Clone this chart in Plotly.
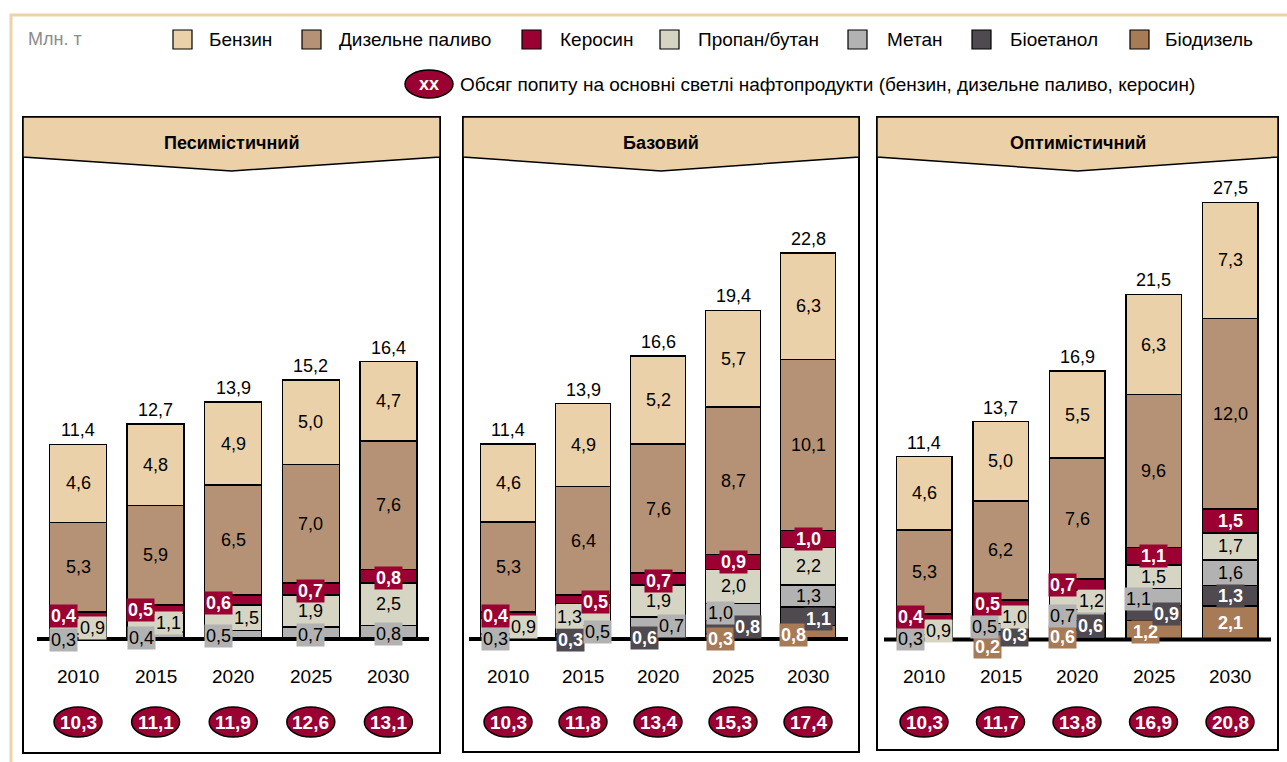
import plotly.graph_objects as go

W, H = 1287, 762
FONT = "Arial, Liberation Sans, sans-serif"

years = ["2010", "2015", "2020", "2025", "2030"]
scenario_titles = ["Песимістичний", "Базовий", "Оптимістичний"]

# fuels in stacking order, bottom to top
fuel_names = ["Біодизель", "Біоетанол", "Метан", "Пропан/бутан", "Керосин", "Дизельне паливо", "Бензин"]
legend_order = ["Бензин", "Дизельне паливо", "Керосин", "Пропан/бутан", "Метан", "Біоетанол", "Біодизель"]

# --- Песимістичний, млн т
pes_benzin = [4.6, 4.8, 4.9, 5.0, 4.7]
pes_diesel = [5.3, 5.9, 6.5, 7.0, 7.6]
pes_kerosene = [0.4, 0.5, 0.6, 0.7, 0.8]
pes_propane = [0.9, 1.1, 1.5, 1.9, 2.5]
pes_methane = [0.3, 0.4, 0.5, 0.7, 0.8]
pes_bioethanol = [None, None, None, None, None]
pes_biodiesel = [None, None, None, None, None]
pes_total = [11.4, 12.7, 13.9, 15.2, 16.4]
pes_demand = [10.3, 11.1, 11.9, 12.6, 13.1]

# --- Базовий, млн т
base_benzin = [4.6, 4.9, 5.2, 5.7, 6.3]
base_diesel = [5.3, 6.4, 7.6, 8.7, 10.1]
base_kerosene = [0.4, 0.5, 0.7, 0.9, 1.0]
base_propane = [0.9, 1.3, 1.9, 2.0, 2.2]
base_methane = [0.3, 0.5, 0.7, 1.0, 1.3]
base_bioethanol = [None, 0.3, 0.6, 0.8, 1.1]
base_biodiesel = [None, None, None, 0.3, 0.8]
base_total = [11.4, 13.9, 16.6, 19.4, 22.8]
base_demand = [10.3, 11.8, 13.4, 15.3, 17.4]

# --- Оптимістичний, млн т
opt_benzin = [4.6, 5.0, 5.5, 6.3, 7.3]
opt_diesel = [5.3, 6.2, 7.6, 9.6, 12.0]
opt_kerosene = [0.4, 0.5, 0.7, 1.1, 1.5]
opt_propane = [0.9, 1.0, 1.2, 1.5, 1.7]
opt_methane = [0.3, 0.5, 0.7, 1.1, 1.6]
opt_bioethanol = [None, 0.3, 0.6, 0.9, 1.3]
opt_biodiesel = [None, 0.2, 0.6, 1.2, 2.1]
opt_total = [11.4, 13.7, 16.9, 21.5, 27.5]
opt_demand = [10.3, 11.7, 13.8, 16.9, 20.8]

scenarios = [
    dict(values={"Бензин": pes_benzin, "Дизельне паливо": pes_diesel, "Керосин": pes_kerosene,
                 "Пропан/бутан": pes_propane, "Метан": pes_methane, "Біоетанол": pes_bioethanol,
                 "Біодизель": pes_biodiesel}, total=pes_total, demand=pes_demand),
    dict(values={"Бензин": base_benzin, "Дизельне паливо": base_diesel, "Керосин": base_kerosene,
                 "Пропан/бутан": base_propane, "Метан": base_methane, "Біоетанол": base_bioethanol,
                 "Біодизель": base_biodiesel}, total=base_total, demand=base_demand),
    dict(values={"Бензин": opt_benzin, "Дизельне паливо": opt_diesel, "Керосин": opt_kerosene,
                 "Пропан/бутан": opt_propane, "Метан": opt_methane, "Біоетанол": opt_bioethanol,
                 "Біодизель": opt_biodiesel}, total=opt_total, demand=opt_demand),
]

colors = {
    "Бензин": "#EBD1A9",
    "Дизельне паливо": "#B59276",
    "Керосин": "#9B0032",
    "Пропан/бутан": "#D6D5C4",
    "Метан": "#B2B2B2",
    "Біоетанол": "#4F4A4F",
    "Біодизель": "#A87B57",
}
# label look for each fuel: (text colour, bold)
label_look = {
    "Бензин": ("black", False),
    "Дизельне паливо": ("black", False),
    "Керосин": ("white", True),
    "Пропан/бутан": ("black", False),
    "Метан": ("black", False),
    "Біоетанол": ("white", True),
    "Біодизель": ("white", True),
}

# panel geometry in pixels: frame left/right, first bar centre, bar step,
# pixels per unit, baseline position, bar width in px
panels = [
    dict(left=23, right=440, c0=78, step=77.6, k=16.92, base=639, bw=57),
    dict(left=463, right=859, c0=508, step=75.0, k=16.94, base=639, bw=55),
    dict(left=877, right=1278, c0=924, step=76.5, k=15.9, base=639.5, bw=55.5),
]
panel_top, header_side, header_tip = 117, 157, 171
panel_bottoms = [753, 752, 750]

# pixel shifts for labels of the thin segments
label_offsets = {
    (0, 0, "Керосин"): (-15, -1), (0, 0, "Пропан/бутан"): (14, -2), (0, 0, "Метан"): (-15, -4),
    (0, 1, "Керосин"): (-15, -1), (0, 1, "Пропан/бутан"): (13, 0), (0, 1, "Метан"): (-14, -2),
    (0, 2, "Керосин"): (-15, -3), (0, 2, "Пропан/бутан"): (13, 0), (0, 2, "Метан"): (-15, -1),
    (0, 3, "Керосин"): (0, -2), (0, 3, "Метан"): (0, -2),
    (0, 4, "Керосин"): (0, -2), (0, 4, "Метан"): (0, -2),
    (1, 0, "Керосин"): (-13, -1), (1, 0, "Пропан/бутан"): (15, -1), (1, 0, "Метан"): (-13, -3),
    (1, 1, "Керосин"): (12, -3), (1, 1, "Пропан/бутан"): (-14, -3), (1, 1, "Метан"): (14, -2),
    (1, 1, "Біоетанол"): (-13, -4),
    (1, 2, "Керосин"): (0, -2), (1, 2, "Метан"): (13, -3), (1, 2, "Біоетанол"): (-14, -4),
    (1, 3, "Метан"): (-13, -1), (1, 3, "Біоетанол"): (14, 0), (1, 3, "Біодизель"): (-13, -3),
    (1, 4, "Біоетанол"): (10, -3), (1, 4, "Біодизель"): (-15, -3),
    (2, 0, "Керосин"): (-14, 0), (2, 0, "Пропан/бутан"): (14, -3), (2, 0, "Метан"): (-14, -2),
    (2, 1, "Керосин"): (-13, 0), (2, 1, "Пропан/бутан"): (14, -1), (2, 1, "Метан"): (-16, 1),
    (2, 1, "Біоетанол"): (14, -1), (2, 1, "Біодизель"): (-13, -9),
    (2, 2, "Керосин"): (-15, 0), (2, 2, "Пропан/бутан"): (14, -1), (2, 2, "Метан"): (-15, -1),
    (2, 2, "Біоетанол"): (13, -1), (2, 2, "Біодизель"): (-15, -2),
    (2, 3, "Метан"): (-15, -2), (2, 3, "Біоетанол"): (13, -1), (2, 3, "Біодизель"): (-8, -2),
}


def px(x):
    return x / W


def py(y):
    return 1 - y / H


def fmt(v):
    return f"{v:.1f}".replace(".", ",")


def text(xref, yref, x, y, s, size=18, color="black", xanchor="center", yanchor="middle", **kw):
    return dict(xref=xref, yref=yref, x=x, y=y, text=s, showarrow=False,
                xanchor=xanchor, yanchor=yanchor,
                font=dict(family=FONT, size=size, color=color), **kw)


fig = go.Figure()
shapes, annotations = [], []
layout_axes = {}

for p, (sc, g) in enumerate(zip(scenarios, panels)):
    sfx = "" if p == 0 else str(p + 1)
    xa, ya = "x" + sfx, "y" + sfx
    layout_axes["xaxis" + sfx] = dict(
        domain=[px(g["left"]), px(g["right"])],
        range=[(g["left"] - g["c0"]) / g["step"], (g["right"] - g["c0"]) / g["step"]],
        visible=False, fixedrange=True, anchor=ya)
    layout_axes["yaxis" + sfx] = dict(
        domain=[0, 1], range=[(g["base"] - H) / g["k"], g["base"] / g["k"]],
        visible=False, fixedrange=True, anchor=xa)

    xs = list(range(len(years)))
    bw = g["bw"] / g["step"]

    # panel frame and chevron header
    L, R, B = g["left"], g["right"], panel_bottoms[p]
    shapes.append(dict(type="rect", xref="paper", yref="paper", x0=px(L), x1=px(R), y0=py(B), y1=py(panel_top),
                       line=dict(color="black", width=2), fillcolor="rgba(0,0,0,0)", layer="below"))
    mid = (L + R) / 2
    path = (f"M {px(L)},{py(panel_top)} L {px(R)},{py(panel_top)} L {px(R)},{py(header_side)} "
            f"L {px(mid)},{py(header_tip)} L {px(L)},{py(header_side)} Z")
    shapes.append(dict(type="path", xref="paper", yref="paper", path=path, fillcolor="#EBD0A8",
                       line=dict(color="black", width=1.5), layer="below"))
    annotations.append(text("paper", "paper", px(mid), py(143), f"<b>{scenario_titles[p]}</b>", size=18))

    for f in fuel_names:
        fig.add_trace(go.Bar(
            x=xs, y=sc["values"][f], width=bw, xaxis=xa, yaxis=ya, name=f,
            marker=dict(color=colors[f], line=dict(color="black", width=1.5)),
            hoverinfo="skip", showlegend=False))

    # segment labels, totals, years and demand ellipses
    for i in xs:
        cum = 0.0
        for f in fuel_names:
            v = sc["values"][f][i]
            if v is None:
                continue
            dx, dy = label_offsets.get((p, i, f), (0, 0))
            tcol, bold = label_look[f]
            seg_px = v * g["k"]
            use_bg = (f in ("Керосин", "Метан", "Біоетанол", "Біодизель") and seg_px < 22) or dx != 0
            s = f"<b>{fmt(v)}</b>" if bold else fmt(v)
            ann = text(xa, ya, i, cum + v / 2, s, color=tcol, xshift=dx, yshift=dy, borderpad=1)
            if use_bg:
                ann["bgcolor"] = colors[f]
            annotations.append(ann)
            cum += v
        annotations.append(text(xa, ya, i, cum, fmt(sc["total"][i]), yanchor="bottom", yshift=2))
        annotations.append(text(xa, "paper", i, py(676), years[i], size=19))
        shapes.append(dict(type="circle", xref=xa, yref="paper", xsizemode="pixel", ysizemode="pixel",
                           xanchor=i, yanchor=py(722), x0=-24, x1=24, y0=-15, y1=15,
                           fillcolor="#9B0032", line=dict(color="black", width=1.5), layer="above"))
        annotations.append(text(xa, "paper", i, py(722), f"<b>{fmt(sc['demand'][i])}</b>", size=19, color="white"))

    # thick baseline
    base_ext = [(37, 429), (469, 848), (884, 1271)][p]
    shapes.append(dict(type="line", xref="paper", yref=ya, x0=px(base_ext[0]), x1=px(base_ext[1]), y0=0, y1=0,
                       line=dict(color="black", width=4), layer="above"))

# outer frame
shapes.append(dict(type="rect", xref="paper", yref="paper", x0=px(11), x1=px(1320), y0=py(800), y1=py(15),
                   line=dict(color="#EBD3AE", width=3), fillcolor="rgba(0,0,0,0)", layer="below"))

# legend
annotations.append(text("paper", "paper", px(26), py(39), "Млн. т", size=18, color="#8C8C8C", xanchor="left"))
legend_pos = {"Бензин": (173, 207), "Дизельне паливо": (302, 337), "Керосин": (522, 558),
              "Пропан/бутан": (660, 696), "Метан": (848, 885), "Біоетанол": (972, 1008),
              "Біодизель": (1130, 1163)}
for f in legend_order:
    sx, tx = legend_pos[f]
    shapes.append(dict(type="rect", xref="paper", yref="paper", x0=px(sx), x1=px(sx + 19), y0=py(49), y1=py(30),
                       fillcolor=colors[f], line=dict(color="black", width=1.2)))
    annotations.append(text("paper", "paper", px(tx), py(39), f, size=19, xanchor="left"))

shapes.append(dict(type="circle", xref="paper", yref="paper", x0=px(405), x1=px(453), y0=py(98), y1=py(70),
                   fillcolor="#9B0032", line=dict(color="black", width=1.5)))
annotations.append(text("paper", "paper", px(429), py(84), "<b>xx</b>", size=18, color="white"))
annotations.append(text("paper", "paper", px(458), py(84),
                        "Обсяг попиту на основні светлі нафтопродукти (бензин, дизельне паливо, керосин)",
                        size=19, xanchor="left"))

fig.update_layout(
    width=W, height=H, margin=dict(l=0, r=0, t=0, b=0),
    paper_bgcolor="white", plot_bgcolor="rgba(0,0,0,0)",
    barmode="stack", showlegend=False,
    shapes=shapes, annotations=annotations,
    **layout_axes,
)

fig.write_html("out.html", config={"displayModeBar": False})
